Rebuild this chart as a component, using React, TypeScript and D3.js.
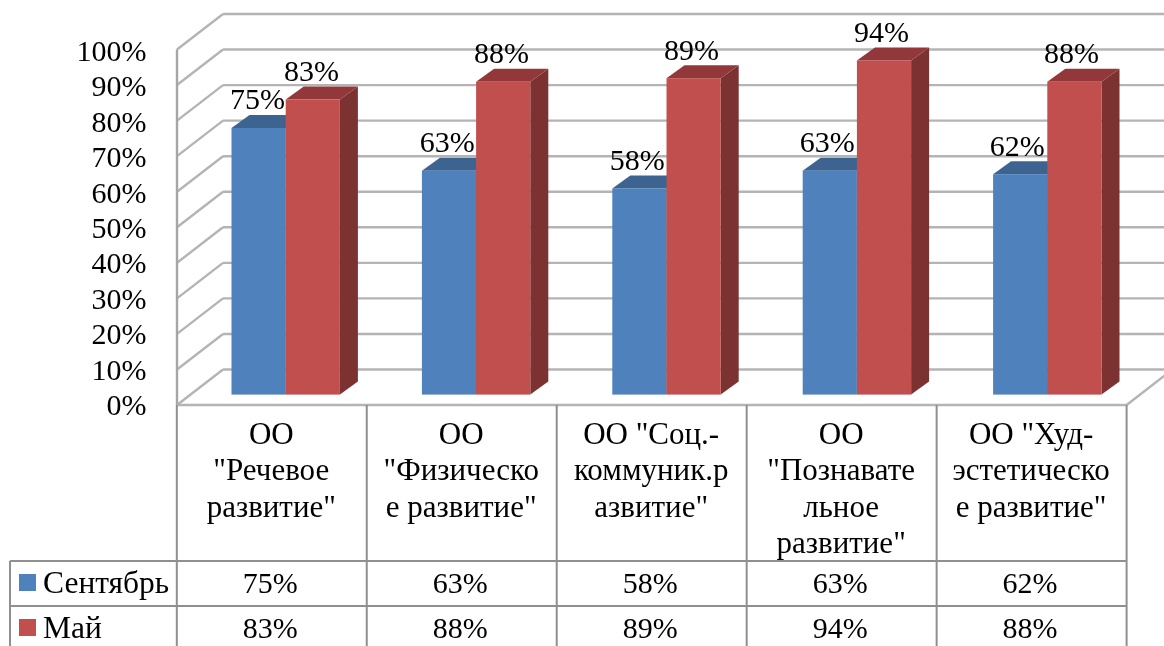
import React from "react";
import * as d3 from "d3";

const categoryLines: string[][] = [
  ["ОО", "\"Речевое", "развитие\""],
  ["ОО", "\"Физическо", "е развитие\""],
  ["ОО \"Соц.-", "коммуник.р", "азвитие\""],
  ["ОО", "\"Познавате", "льное", "развитие\""],
  ["ОО \"Худ-", "эстетическо", "е развитие\""],
];
const seriesNames = ["Сентябрь", "Май"];
const september = [75, 63, 58, 63, 62];
const may = [83, 88, 89, 94, 88];
const tickValues = [0, 10, 20, 30, 40, 50, 60, 70, 80, 90, 100];

const W = 1164, H = 646;
const FONT = "'Liberation Serif','Times New Roman',serif";
const FS = 30;
const depth = { x: 46, y: -35.5 };
const barDepth = { x: 18, y: -13 };

const x = d3.scaleBand<number>().domain(d3.range(5)).range([176.8, 1126.6]);
const xBar = d3.scaleBand<number>().domain(d3.range(5)).range([177, 1129]);
const yFront = d3.scaleLinear().domain([0, 100]).range([405, 49.5]);
const yBar = d3.scaleLinear().domain([0, 100]).range([394.6, 39.1]);
const yLabel = d3.scaleLinear().domain([0, 100]).range([415, 61]);
const BAR_INSET = 54.5, BAR_W = 54.2;

const colors = [
  { front: "#4f81bd", top: "#3c6390", side: "#33547a" },
  { front: "#c0504d", top: "#92393a", side: "#7d3230" },
];

function Bar({ cat, s, v }: { cat: number; s: number; v: number }) {
  const x0 = (xBar(cat) as number) + BAR_INSET + s * BAR_W;
  const x1 = x0 + BAR_W;
  const yt = yBar(v), yb = yBar(0);
  const c = colors[s];
  const dx = barDepth.x, dy = barDepth.y;
  const poly = (p: number[][]) => d3.line()(p as [number, number][]) + "Z";
  return (
    <g>
      <path d={poly([[x1, yt], [x1 + dx, yt + dy], [x1 + dx, yb + dy], [x1, yb]])} fill={c.side} />
      <path d={poly([[x0, yt], [x0 + dx, yt + dy], [x1 + dx, yt + dy], [x1, yt]])} fill={c.top} />
      <rect x={x0} y={yt} width={BAR_W} height={yb - yt} fill={c.front} />
    </g>
  );
}

export default function App() {
  const rows = [561, 606];
  const edges = x.domain().map((d) => x(d) as number).concat(1126.6);
  return (
    <svg width={W} height={H} viewBox={`0 0 ${W} ${H}`}
      style={{ position: "absolute", left: 0, top: 0, background: "#fff" }}
      fontFamily={FONT} fontSize={FS} fill="#000">
      <defs>
        <filter id="soft" x="-2%" y="-2%" width="104%" height="104%">
          <feGaussianBlur stdDeviation="0.55" />
        </filter>
      </defs>
      <g filter="url(#soft)">
        {tickValues.map((t) => (
          <g key={t} stroke="#b4b4b4" strokeWidth={2.4} fill="none">
            <line x1={177} y1={yFront(t)} x2={177 + depth.x} y2={yFront(t) + depth.y} />
            <line x1={177 + depth.x} y1={yFront(t) + depth.y} x2={W + 5} y2={yFront(t) + depth.y} />
          </g>
        ))}
        <line x1={177} y1={yFront(100)} x2={177} y2={yFront(0)} stroke="#a6a6a6" strokeWidth={2.4} />
        <line x1={1126.6} y1={yFront(0)} x2={1126.6 + depth.x} y2={yFront(0) + depth.y} stroke="#b4b4b4" strokeWidth={2.4} />
        <line x1={177} y1={yFront(0)} x2={1126.6} y2={yFront(0)} stroke="#b4b4b4" strokeWidth={2.6} />

        {september.map((_, i) => (
          <g key={i}>
            <Bar cat={i} s={0} v={september[i]} />
            <Bar cat={i} s={1} v={may[i]} />
          </g>
        ))}

        <g stroke="#8f8f8f" strokeWidth={2}>
          {edges.map((e) => <line key={e} x1={e} y1={yFront(0)} x2={e} y2={H} />)}
          {rows.map((r) => <line key={r} x1={10} y1={r} x2={1126.6} y2={r} />)}
          <line x1={10} y1={rows[0]} x2={10} y2={H} />
        </g>

        {tickValues.map((t) => (
          <text key={t} x={146.5} y={yLabel(t)} textAnchor="end">{t}%</text>
        ))}

        {september.map((v, i) => {
          const bx = (x(i) as number) + BAR_INSET;
          return (
            <g key={i} textAnchor="middle">
              <text x={bx + BAR_W / 2 - 1} y={yBar(v) - 18.6}>{v}%</text>
              <text x={bx + BAR_W * 1.5 - 1} y={yBar(may[i]) - 18.6}>{may[i]}%</text>
            </g>
          );
        })}

        {categoryLines.map((lines, i) => (
          <g key={i} textAnchor="middle" fontSize={31}>
            {lines.map((l, j) => (
              <text key={j} x={(x(i) as number) + x.bandwidth() / 2 - 0.5} y={444 + j * 36.3}>{l}</text>
            ))}
          </g>
        ))}

        {[september, may].map((vals, r) => (
          <g key={r}>
            <rect x={19} y={574 + r * 45} width={17} height={17} fill={colors[r].front} />
            <text x={43} y={592.7 + r * 45} fontSize={31.5}>{seriesNames[r]}</text>
            {vals.map((v, i) => (
              <text key={i} x={(x(i) as number) + x.bandwidth() / 2 - 1.5} y={592.7 + r * 45} textAnchor="middle">{v}%</text>
            ))}
          </g>
        ))}
      </g>
    </svg>
  );
}
